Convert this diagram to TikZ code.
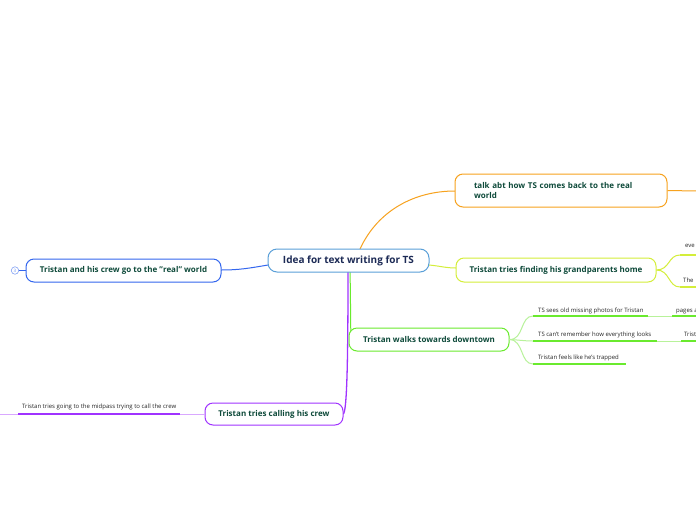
\documentclass[tikz,border=0pt]{standalone}
\usepackage{fontspec}
\setmainfont{Open Sans}
\definecolor{cblue}{HTML}{5A9FD8}
\definecolor{navy}{HTML}{1C2A55}
\definecolor{txt}{HTML}{0E4A3A}
\definecolor{corange}{HTML}{F7A21E}
\definecolor{cyellow}{HTML}{D4EE3A}
\definecolor{cgreen}{HTML}{6AEA2E}
\definecolor{cgreenline}{HTML}{B8F29A}
\definecolor{cbl}{HTML}{3366EE}
\definecolor{cpurple}{HTML}{A033FF}
\definecolor{cpurplel}{HTML}{D9A8FF}
\begin{document}
\begin{tikzpicture}[x=1pt,y=-1pt,
  topic/.style={draw,rounded corners=8pt,line width=1pt,fill=white,text=txt,
    font=\fontsize{8}{9.5}\selectfont\bfseries,inner sep=0pt},
  sub/.style={anchor=base west,inner sep=0pt,text=black!85,font=\fontsize{6}{7}\selectfont},
  uline/.style={line width=1.3pt},
  conn/.style={line width=1pt}]
\clip (0,0) rectangle (696,520);
\fill[white] (0,0) rectangle (696,520);

% connectors from central
\draw[conn,corange] (360,249) .. controls (378,210) and (415,191) .. (455,191);
\draw[conn,cyellow] (429,265) .. controls (440,266) and (446,268) .. (456,268);
\draw[conn,cbl] (268,265) .. controls (250,268) and (240,270) .. (221,270);
\draw[conn,cgreen] (350,272) .. controls (351,310) and (350,340) .. (352,340);
\draw[line width=1.3pt,cpurple] (348,272) .. controls (348,360) and (347,414) .. (343,414);

% central
\node[draw=cblue,line width=1pt,rounded corners=9pt,fill=white,text=navy,
  font=\fontsize{10}{12}\selectfont\bfseries,minimum width=161pt,minimum height=23pt,inner sep=0pt]
  (c) at (348.5,260.5) {Idea for text writing for TS};

% talk
\node[topic,draw=corange,minimum width=212pt,minimum height=33pt,text width=174pt,align=left,inner xsep=19pt]
  (talk) at (561,190.5) {talk abt how TS comes back to the real\\world};
\coordinate (talkend) at (697,191);
\draw[conn,corange] (talk.east) -- (talkend);

% grandparents
\node[topic,draw=cyellow,minimum width=200pt,minimum height=24pt] (gp) at (556,270) {Tristan tries finding his grandparents home};
\coordinate (gpa) at (680,255);
\coordinate (gpb) at (680,287);
\coordinate (gpae) at (697,255);
\coordinate (gpbe) at (697,287);
\draw[conn,cyellow] (gp.east) .. controls (670,270) and (668,255) .. (gpa);
\draw[conn,cyellow] (gp.east) .. controls (670,270) and (668,287) .. (gpb);
\draw[uline,cyellow] (gpa) -- (gpae);
\draw[uline,cyellow] (gpb) -- (gpbe);
\node[sub] (gpat) at (685,247.5) {eve};
\node[sub] (gpbt) at (683,282) {The};

% downtown
\node[topic,draw=cgreen,minimum width=160pt,minimum height=23pt] (dt) at (429,339.5) {Tristan walks towards downtown};
\coordinate (d1) at (533,316);
\coordinate (d1e) at (648,316);
\coordinate (d2) at (533,341);
\coordinate (d2e) at (657,341);
\coordinate (d3) at (533,364);
\coordinate (d3e) at (626,364);
\draw[conn,cgreenline] (dt.east) .. controls (524,340) and (520,316) .. (d1);
\draw[conn,cgreenline] (dt.east) .. controls (520,340) and (524,341) .. (d2);
\draw[conn,cgreenline] (dt.east) .. controls (524,340) and (520,364) .. (d3);
\draw[uline,cgreen] (d1) -- (d1e);
\draw[uline,cgreen] (d2) -- (d2e);
\draw[uline,cgreen] (d3) -- (d3e);
\node[sub] (t1) at (538,312) {TS sees old missing photos for Tristan};
\node[sub] (t2) at (538,336) {TS can't remember how everything looks};
\node[sub] (t3) at (538,359.5) {Tristan feels like he's trapped};
\coordinate (e1) at (672,316);
\coordinate (e1e) at (697,316);
\coordinate (e2) at (681,341);
\coordinate (e2e) at (697,341);
\draw[conn,cgreenline] (d1e) -- (e1);
\draw[conn,cgreenline] (d2e) -- (e2);
\draw[uline,cgreen] (e1) -- (e1e);
\draw[uline,cgreen] (e2) -- (e2e);
\node[sub] (t4) at (676,312) {pages a};
\node[sub] (t5) at (684,336) {Trist};

% crew real world
\node[topic,draw=cbl,minimum width=195pt,minimum height=23pt] (cr) at (123.5,270.5) {Tristan and his crew go to the "real" world};
\node[circle,draw=cbl!60,line width=0.6pt,minimum size=7.5pt,inner sep=0pt,text=cbl!70,
  font=\fontsize{4.5}{5}\selectfont] (cnt) at (15,270.5) {3};
\draw[conn,cbl] (cnt.east) -- (cr.west);

% calling crew
\node[topic,draw=cpurple,minimum width=138pt,minimum height=22pt] (cc) at (274,414) {Tristan tries calling his crew};
\coordinate (p1) at (18,414);
\coordinate (p1e) at (180,414);
\coordinate (p0) at (-1,414);
\draw[conn,cpurplel] (cc.west) -- (p1e);
\draw[uline,cpurple] (p1) -- (p1e);
\draw[conn,cpurplel] (p1) -- (p0);
\node[sub] (pt) at (22,408.5) {Tristan tries going to the midpass trying to call the crew};
\end{tikzpicture}
\end{document}
